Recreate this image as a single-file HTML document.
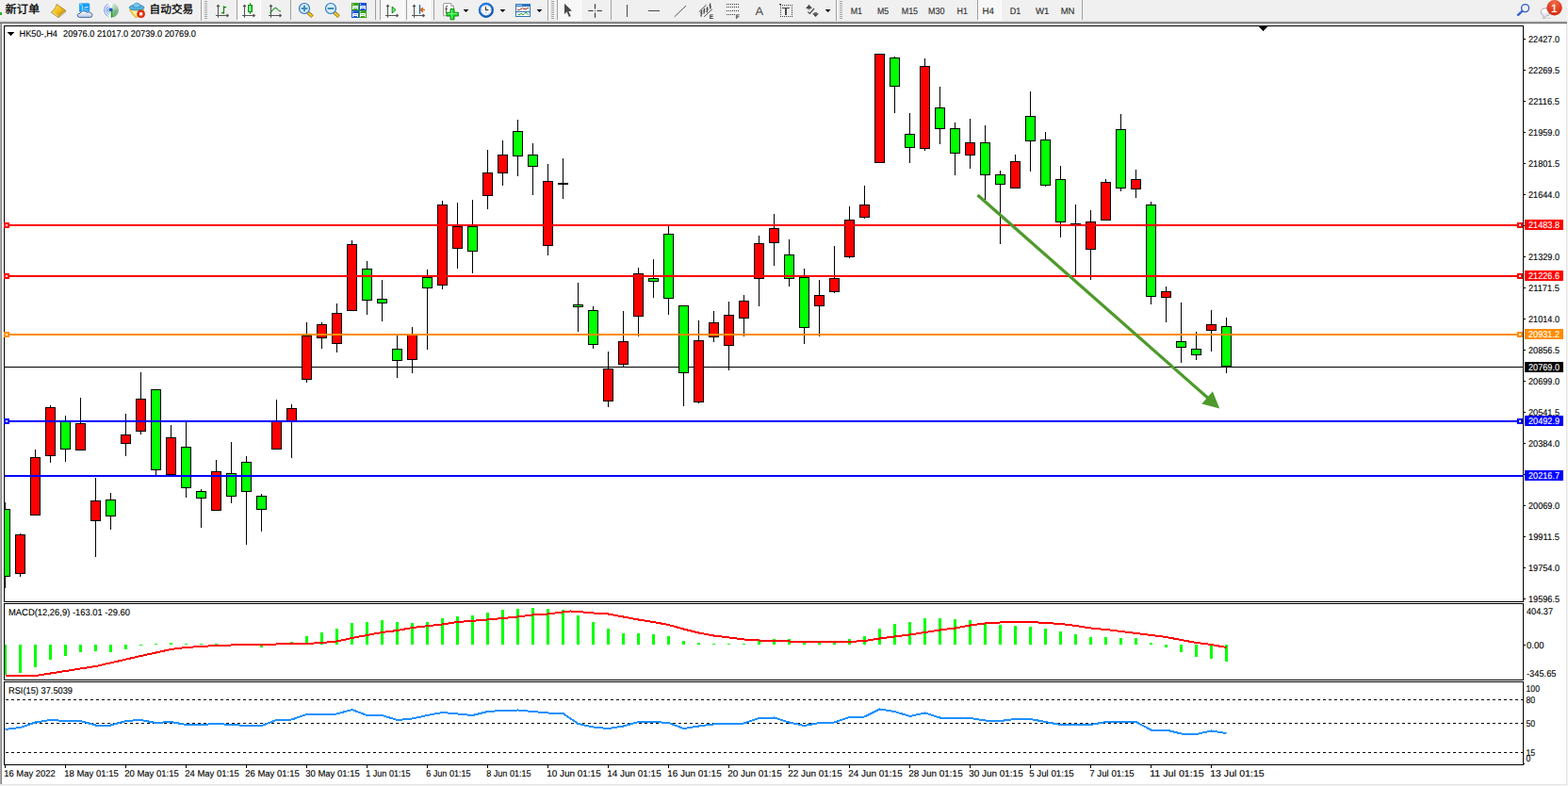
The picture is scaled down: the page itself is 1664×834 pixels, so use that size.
<!DOCTYPE html>
<html><head><meta charset="utf-8"><title>HK50-,H4</title>
<style>html,body{margin:0;padding:0;background:#f0f0f0;overflow:hidden}
svg{display:block} text{font-family:"Liberation Sans",sans-serif;white-space:pre;text-rendering:geometricPrecision}</style></head>
<body><svg width="1664" height="834" viewBox="0 0 1664 834">
<g shape-rendering="crispEdges">
<rect x="0" y="0" width="1664" height="834" fill="#f0f0f0"/>
<rect x="0" y="22" width="1663" height="1" fill="#dcdcdc"/>
<rect x="0" y="23" width="1663" height="1" fill="#a0a0a0"/>
<rect x="0" y="24" width="1663" height="1" fill="#696969"/>
<rect x="0" y="25" width="1" height="807" fill="#ababab"/>
<rect x="1" y="25" width="1" height="807" fill="#868686"/>
<rect x="2" y="25" width="1660" height="807" fill="#ffffff"/>
<rect x="1662" y="25" width="1" height="808" fill="#e3e3e3"/>
<rect x="0" y="832" width="1663" height="1" fill="#e3e3e3"/>
<rect x="1663" y="0" width="1" height="834" fill="#f6f6f6"/>
<rect x="0" y="833" width="1664" height="1" fill="#f6f6f6"/>
<rect x="4" y="27" width="1613" height="1" fill="#000"/>
<rect x="4" y="638" width="1613" height="1" fill="#000"/>
<rect x="4" y="27" width="1" height="612" fill="#000"/>
<rect x="1616" y="27" width="1" height="612" fill="#000"/>
<rect x="4" y="640" width="1613" height="1" fill="#000"/>
<rect x="4" y="721" width="1613" height="1" fill="#000"/>
<rect x="4" y="640" width="1" height="82" fill="#000"/>
<rect x="1616" y="640" width="1" height="82" fill="#000"/>
<rect x="4" y="723" width="1613" height="1" fill="#000"/>
<rect x="4" y="811" width="1613" height="1" fill="#000"/>
<rect x="4" y="723" width="1" height="89" fill="#000"/>
<rect x="1616" y="723" width="1" height="89" fill="#000"/>
<rect x="5" y="389" width="1611" height="1" fill="#000"/>
<rect x="5" y="533" width="1" height="91" fill="#000"/>
<rect x="5" y="540" width="6" height="72" fill="#000"/>
<rect x="5" y="541" width="5" height="70" fill="#00ff00"/>
<rect x="21" y="566" width="1" height="46" fill="#000"/>
<rect x="16" y="567" width="11" height="42" fill="#000"/>
<rect x="17" y="568" width="9" height="40" fill="#ff0000"/>
<rect x="37" y="477" width="1" height="70" fill="#000"/>
<rect x="32" y="485" width="11" height="62" fill="#000"/>
<rect x="33" y="486" width="9" height="60" fill="#ff0000"/>
<rect x="53" y="430" width="1" height="61" fill="#000"/>
<rect x="48" y="432" width="11" height="52" fill="#000"/>
<rect x="49" y="433" width="9" height="50" fill="#ff0000"/>
<rect x="69" y="441" width="1" height="49" fill="#000"/>
<rect x="64" y="447" width="11" height="30" fill="#000"/>
<rect x="65" y="448" width="9" height="28" fill="#00ff00"/>
<rect x="85" y="422" width="1" height="56" fill="#000"/>
<rect x="80" y="449" width="11" height="29" fill="#000"/>
<rect x="81" y="450" width="9" height="27" fill="#ff0000"/>
<rect x="101" y="507" width="1" height="84" fill="#000"/>
<rect x="96" y="531" width="11" height="22" fill="#000"/>
<rect x="97" y="532" width="9" height="20" fill="#ff0000"/>
<rect x="117" y="523" width="1" height="39" fill="#000"/>
<rect x="112" y="530" width="11" height="18" fill="#000"/>
<rect x="113" y="531" width="9" height="16" fill="#00ff00"/>
<rect x="133" y="439" width="1" height="45" fill="#000"/>
<rect x="128" y="461" width="11" height="10" fill="#000"/>
<rect x="129" y="462" width="9" height="8" fill="#ff0000"/>
<rect x="149" y="395" width="1" height="66" fill="#000"/>
<rect x="144" y="423" width="11" height="35" fill="#000"/>
<rect x="145" y="424" width="9" height="33" fill="#ff0000"/>
<rect x="165" y="413" width="1" height="92" fill="#000"/>
<rect x="160" y="413" width="11" height="86" fill="#000"/>
<rect x="161" y="414" width="9" height="84" fill="#00ff00"/>
<rect x="181" y="451" width="1" height="53" fill="#000"/>
<rect x="176" y="464" width="11" height="40" fill="#000"/>
<rect x="177" y="465" width="9" height="38" fill="#ff0000"/>
<rect x="197" y="448" width="1" height="80" fill="#000"/>
<rect x="192" y="474" width="11" height="44" fill="#000"/>
<rect x="193" y="475" width="9" height="42" fill="#00ff00"/>
<rect x="213" y="519" width="1" height="41" fill="#000"/>
<rect x="208" y="521" width="11" height="8" fill="#000"/>
<rect x="209" y="522" width="9" height="6" fill="#00ff00"/>
<rect x="229" y="488" width="1" height="54" fill="#000"/>
<rect x="224" y="500" width="11" height="42" fill="#000"/>
<rect x="225" y="501" width="9" height="40" fill="#ff0000"/>
<rect x="245" y="469" width="1" height="65" fill="#000"/>
<rect x="240" y="502" width="11" height="25" fill="#000"/>
<rect x="241" y="503" width="9" height="23" fill="#00ff00"/>
<rect x="261" y="484" width="1" height="94" fill="#000"/>
<rect x="256" y="490" width="11" height="32" fill="#000"/>
<rect x="257" y="491" width="9" height="30" fill="#00ff00"/>
<rect x="277" y="524" width="1" height="40" fill="#000"/>
<rect x="272" y="526" width="11" height="15" fill="#000"/>
<rect x="273" y="527" width="9" height="13" fill="#00ff00"/>
<rect x="293" y="424" width="1" height="53" fill="#000"/>
<rect x="288" y="447" width="11" height="30" fill="#000"/>
<rect x="289" y="448" width="9" height="28" fill="#ff0000"/>
<rect x="309" y="429" width="1" height="57" fill="#000"/>
<rect x="304" y="433" width="11" height="14" fill="#000"/>
<rect x="305" y="434" width="9" height="12" fill="#ff0000"/>
<rect x="325" y="342" width="1" height="64" fill="#000"/>
<rect x="320" y="356" width="11" height="47" fill="#000"/>
<rect x="321" y="357" width="9" height="45" fill="#ff0000"/>
<rect x="341" y="342" width="1" height="28" fill="#000"/>
<rect x="336" y="344" width="11" height="15" fill="#000"/>
<rect x="337" y="345" width="9" height="13" fill="#ff0000"/>
<rect x="357" y="322" width="1" height="52" fill="#000"/>
<rect x="352" y="332" width="11" height="33" fill="#000"/>
<rect x="353" y="333" width="9" height="31" fill="#ff0000"/>
<rect x="373" y="255" width="1" height="75" fill="#000"/>
<rect x="368" y="259" width="11" height="71" fill="#000"/>
<rect x="369" y="260" width="9" height="69" fill="#ff0000"/>
<rect x="389" y="277" width="1" height="57" fill="#000"/>
<rect x="384" y="285" width="11" height="34" fill="#000"/>
<rect x="385" y="286" width="9" height="32" fill="#00ff00"/>
<rect x="405" y="297" width="1" height="44" fill="#000"/>
<rect x="400" y="317" width="11" height="5" fill="#000"/>
<rect x="401" y="318" width="9" height="3" fill="#00ff00"/>
<rect x="421" y="356" width="1" height="45" fill="#000"/>
<rect x="416" y="370" width="11" height="13" fill="#000"/>
<rect x="417" y="371" width="9" height="11" fill="#00ff00"/>
<rect x="437" y="347" width="1" height="49" fill="#000"/>
<rect x="432" y="355" width="11" height="27" fill="#000"/>
<rect x="433" y="356" width="9" height="25" fill="#ff0000"/>
<rect x="453" y="286" width="1" height="85" fill="#000"/>
<rect x="448" y="294" width="11" height="12" fill="#000"/>
<rect x="449" y="295" width="9" height="10" fill="#00ff00"/>
<rect x="469" y="213" width="1" height="94" fill="#000"/>
<rect x="464" y="217" width="11" height="86" fill="#000"/>
<rect x="465" y="218" width="9" height="84" fill="#ff0000"/>
<rect x="485" y="215" width="1" height="70" fill="#000"/>
<rect x="480" y="240" width="11" height="24" fill="#000"/>
<rect x="481" y="241" width="9" height="22" fill="#ff0000"/>
<rect x="501" y="212" width="1" height="78" fill="#000"/>
<rect x="496" y="240" width="11" height="27" fill="#000"/>
<rect x="497" y="241" width="9" height="25" fill="#00ff00"/>
<rect x="517" y="159" width="1" height="63" fill="#000"/>
<rect x="512" y="183" width="11" height="25" fill="#000"/>
<rect x="513" y="184" width="9" height="23" fill="#ff0000"/>
<rect x="533" y="149" width="1" height="48" fill="#000"/>
<rect x="528" y="164" width="11" height="20" fill="#000"/>
<rect x="529" y="165" width="9" height="18" fill="#ff0000"/>
<rect x="549" y="127" width="1" height="60" fill="#000"/>
<rect x="544" y="139" width="11" height="27" fill="#000"/>
<rect x="545" y="140" width="9" height="25" fill="#00ff00"/>
<rect x="565" y="152" width="1" height="55" fill="#000"/>
<rect x="560" y="164" width="11" height="13" fill="#000"/>
<rect x="561" y="165" width="9" height="11" fill="#00ff00"/>
<rect x="581" y="174" width="1" height="97" fill="#000"/>
<rect x="576" y="192" width="11" height="69" fill="#000"/>
<rect x="577" y="193" width="9" height="67" fill="#ff0000"/>
<rect x="597" y="168" width="1" height="43" fill="#000"/>
<rect x="592" y="194" width="11" height="2" fill="#000"/>
<rect x="613" y="300" width="1" height="52" fill="#000"/>
<rect x="608" y="323" width="11" height="3" fill="#000"/>
<rect x="609" y="324" width="9" height="1" fill="#00ff00"/>
<rect x="629" y="325" width="1" height="45" fill="#000"/>
<rect x="624" y="329" width="11" height="37" fill="#000"/>
<rect x="625" y="330" width="9" height="35" fill="#00ff00"/>
<rect x="645" y="373" width="1" height="59" fill="#000"/>
<rect x="640" y="391" width="11" height="35" fill="#000"/>
<rect x="641" y="392" width="9" height="33" fill="#ff0000"/>
<rect x="661" y="330" width="1" height="59" fill="#000"/>
<rect x="656" y="362" width="11" height="25" fill="#000"/>
<rect x="657" y="363" width="9" height="23" fill="#ff0000"/>
<rect x="677" y="284" width="1" height="73" fill="#000"/>
<rect x="672" y="290" width="11" height="46" fill="#000"/>
<rect x="673" y="291" width="9" height="44" fill="#ff0000"/>
<rect x="693" y="275" width="1" height="41" fill="#000"/>
<rect x="688" y="295" width="11" height="4" fill="#000"/>
<rect x="689" y="296" width="9" height="2" fill="#00ff00"/>
<rect x="709" y="240" width="1" height="94" fill="#000"/>
<rect x="704" y="248" width="11" height="69" fill="#000"/>
<rect x="705" y="249" width="9" height="67" fill="#00ff00"/>
<rect x="725" y="324" width="1" height="107" fill="#000"/>
<rect x="720" y="324" width="11" height="72" fill="#000"/>
<rect x="721" y="325" width="9" height="70" fill="#00ff00"/>
<rect x="741" y="340" width="1" height="88" fill="#000"/>
<rect x="736" y="361" width="11" height="66" fill="#000"/>
<rect x="737" y="362" width="9" height="64" fill="#ff0000"/>
<rect x="757" y="330" width="1" height="33" fill="#000"/>
<rect x="752" y="342" width="11" height="16" fill="#000"/>
<rect x="753" y="343" width="9" height="14" fill="#ff0000"/>
<rect x="773" y="320" width="1" height="73" fill="#000"/>
<rect x="768" y="334" width="11" height="33" fill="#000"/>
<rect x="769" y="335" width="9" height="31" fill="#ff0000"/>
<rect x="789" y="313" width="1" height="44" fill="#000"/>
<rect x="784" y="319" width="11" height="19" fill="#000"/>
<rect x="785" y="320" width="9" height="17" fill="#ff0000"/>
<rect x="805" y="250" width="1" height="75" fill="#000"/>
<rect x="800" y="258" width="11" height="38" fill="#000"/>
<rect x="801" y="259" width="9" height="36" fill="#ff0000"/>
<rect x="821" y="227" width="1" height="55" fill="#000"/>
<rect x="816" y="242" width="11" height="16" fill="#000"/>
<rect x="817" y="243" width="9" height="14" fill="#ff0000"/>
<rect x="837" y="254" width="1" height="50" fill="#000"/>
<rect x="832" y="270" width="11" height="26" fill="#000"/>
<rect x="833" y="271" width="9" height="24" fill="#00ff00"/>
<rect x="853" y="285" width="1" height="80" fill="#000"/>
<rect x="848" y="294" width="11" height="54" fill="#000"/>
<rect x="849" y="295" width="9" height="52" fill="#00ff00"/>
<rect x="869" y="297" width="1" height="60" fill="#000"/>
<rect x="864" y="313" width="11" height="12" fill="#000"/>
<rect x="865" y="314" width="9" height="10" fill="#ff0000"/>
<rect x="885" y="261" width="1" height="50" fill="#000"/>
<rect x="880" y="295" width="11" height="15" fill="#000"/>
<rect x="881" y="296" width="9" height="13" fill="#ff0000"/>
<rect x="901" y="219" width="1" height="55" fill="#000"/>
<rect x="896" y="233" width="11" height="40" fill="#000"/>
<rect x="897" y="234" width="9" height="38" fill="#ff0000"/>
<rect x="917" y="197" width="1" height="35" fill="#000"/>
<rect x="912" y="217" width="11" height="14" fill="#000"/>
<rect x="913" y="218" width="9" height="12" fill="#ff0000"/>
<rect x="933" y="57" width="1" height="116" fill="#000"/>
<rect x="928" y="57" width="11" height="116" fill="#000"/>
<rect x="929" y="58" width="9" height="114" fill="#ff0000"/>
<rect x="949" y="60" width="1" height="60" fill="#000"/>
<rect x="944" y="61" width="11" height="31" fill="#000"/>
<rect x="945" y="62" width="9" height="29" fill="#00ff00"/>
<rect x="965" y="120" width="1" height="53" fill="#000"/>
<rect x="960" y="142" width="11" height="15" fill="#000"/>
<rect x="961" y="143" width="9" height="13" fill="#00ff00"/>
<rect x="981" y="62" width="1" height="98" fill="#000"/>
<rect x="976" y="70" width="11" height="88" fill="#000"/>
<rect x="977" y="71" width="9" height="86" fill="#ff0000"/>
<rect x="997" y="92" width="1" height="61" fill="#000"/>
<rect x="992" y="114" width="11" height="23" fill="#000"/>
<rect x="993" y="115" width="9" height="21" fill="#00ff00"/>
<rect x="1013" y="130" width="1" height="56" fill="#000"/>
<rect x="1008" y="136" width="11" height="27" fill="#000"/>
<rect x="1009" y="137" width="9" height="25" fill="#00ff00"/>
<rect x="1029" y="126" width="1" height="53" fill="#000"/>
<rect x="1024" y="151" width="11" height="14" fill="#000"/>
<rect x="1025" y="152" width="9" height="12" fill="#ff0000"/>
<rect x="1045" y="133" width="1" height="79" fill="#000"/>
<rect x="1040" y="151" width="11" height="35" fill="#000"/>
<rect x="1041" y="152" width="9" height="33" fill="#00ff00"/>
<rect x="1061" y="181" width="1" height="78" fill="#000"/>
<rect x="1056" y="185" width="11" height="11" fill="#000"/>
<rect x="1057" y="186" width="9" height="9" fill="#00ff00"/>
<rect x="1077" y="164" width="1" height="36" fill="#000"/>
<rect x="1072" y="171" width="11" height="29" fill="#000"/>
<rect x="1073" y="172" width="9" height="27" fill="#ff0000"/>
<rect x="1093" y="97" width="1" height="85" fill="#000"/>
<rect x="1088" y="123" width="11" height="27" fill="#000"/>
<rect x="1089" y="124" width="9" height="25" fill="#00ff00"/>
<rect x="1109" y="140" width="1" height="58" fill="#000"/>
<rect x="1104" y="148" width="11" height="49" fill="#000"/>
<rect x="1105" y="149" width="9" height="47" fill="#00ff00"/>
<rect x="1125" y="176" width="1" height="76" fill="#000"/>
<rect x="1120" y="190" width="11" height="46" fill="#000"/>
<rect x="1121" y="191" width="9" height="44" fill="#00ff00"/>
<rect x="1141" y="217" width="1" height="75" fill="#000"/>
<rect x="1136" y="237" width="11" height="1" fill="#000"/>
<rect x="1157" y="223" width="1" height="74" fill="#000"/>
<rect x="1152" y="235" width="11" height="30" fill="#000"/>
<rect x="1153" y="236" width="9" height="28" fill="#ff0000"/>
<rect x="1173" y="190" width="1" height="44" fill="#000"/>
<rect x="1168" y="193" width="11" height="41" fill="#000"/>
<rect x="1169" y="194" width="9" height="39" fill="#ff0000"/>
<rect x="1189" y="121" width="1" height="82" fill="#000"/>
<rect x="1184" y="137" width="11" height="63" fill="#000"/>
<rect x="1185" y="138" width="9" height="61" fill="#00ff00"/>
<rect x="1205" y="180" width="1" height="30" fill="#000"/>
<rect x="1200" y="190" width="11" height="11" fill="#000"/>
<rect x="1201" y="191" width="9" height="9" fill="#ff0000"/>
<rect x="1221" y="214" width="1" height="109" fill="#000"/>
<rect x="1216" y="217" width="11" height="98" fill="#000"/>
<rect x="1217" y="218" width="9" height="96" fill="#00ff00"/>
<rect x="1237" y="304" width="1" height="38" fill="#000"/>
<rect x="1232" y="309" width="11" height="7" fill="#000"/>
<rect x="1233" y="310" width="9" height="5" fill="#ff0000"/>
<rect x="1253" y="321" width="1" height="64" fill="#000"/>
<rect x="1248" y="362" width="11" height="7" fill="#000"/>
<rect x="1249" y="363" width="9" height="5" fill="#00ff00"/>
<rect x="1269" y="352" width="1" height="30" fill="#000"/>
<rect x="1264" y="370" width="11" height="7" fill="#000"/>
<rect x="1265" y="371" width="9" height="5" fill="#00ff00"/>
<rect x="1285" y="329" width="1" height="44" fill="#000"/>
<rect x="1280" y="344" width="11" height="7" fill="#000"/>
<rect x="1281" y="345" width="9" height="5" fill="#ff0000"/>
<rect x="1301" y="337" width="1" height="59" fill="#000"/>
<rect x="1296" y="346" width="11" height="43" fill="#000"/>
<rect x="1297" y="347" width="9" height="41" fill="#00ff00"/>
<rect x="5" y="238" width="1611" height="2" fill="#ff0000"/>
<rect x="4" y="236" width="6" height="6" fill="#ff0000"/>
<rect x="6" y="238" width="2" height="2" fill="#fff"/>
<rect x="1610" y="236" width="6" height="6" fill="#ff0000"/>
<rect x="1612" y="238" width="2" height="2" fill="#fff"/>
<rect x="5" y="292" width="1611" height="2" fill="#ff0000"/>
<rect x="4" y="290" width="6" height="6" fill="#ff0000"/>
<rect x="6" y="292" width="2" height="2" fill="#fff"/>
<rect x="1610" y="290" width="6" height="6" fill="#ff0000"/>
<rect x="1612" y="292" width="2" height="2" fill="#fff"/>
<rect x="5" y="354" width="1611" height="2" fill="#ff8c00"/>
<rect x="4" y="352" width="6" height="6" fill="#ff8c00"/>
<rect x="6" y="354" width="2" height="2" fill="#fff"/>
<rect x="1610" y="352" width="6" height="6" fill="#ff8c00"/>
<rect x="1612" y="354" width="2" height="2" fill="#fff"/>
<rect x="5" y="446" width="1611" height="2" fill="#0000ff"/>
<rect x="4" y="444" width="6" height="6" fill="#0000ff"/>
<rect x="6" y="446" width="2" height="2" fill="#fff"/>
<rect x="1610" y="444" width="6" height="6" fill="#0000ff"/>
<rect x="1612" y="446" width="2" height="2" fill="#fff"/>
<rect x="5" y="504" width="1611" height="2" fill="#0000ff"/>
<g shape-rendering="geometricPrecision"><line x1="1037.5" y1="207" x2="1283" y2="423.3" stroke="#4e9a2b" stroke-width="3.3"/><polygon points="1294.3,433.4 1286.9,415.2 1275.3,428.4" fill="#4e9a2b"/></g>
<rect x="5" y="684" width="2" height="32" fill="#00ff00"/>
<rect x="20" y="684" width="3" height="30" fill="#00ff00"/>
<rect x="36" y="684" width="3" height="24" fill="#00ff00"/>
<rect x="52" y="684" width="3" height="16" fill="#00ff00"/>
<rect x="68" y="684" width="3" height="12" fill="#00ff00"/>
<rect x="84" y="684" width="3" height="8" fill="#00ff00"/>
<rect x="100" y="684" width="3" height="7" fill="#00ff00"/>
<rect x="116" y="684" width="3" height="8" fill="#00ff00"/>
<rect x="132" y="684" width="3" height="5" fill="#00ff00"/>
<rect x="148" y="684" width="3" height="1" fill="#00ff00"/>
<rect x="164" y="683" width="3" height="1" fill="#00ff00"/>
<rect x="180" y="682" width="3" height="2" fill="#00ff00"/>
<rect x="196" y="683" width="3" height="1" fill="#00ff00"/>
<rect x="212" y="683" width="3" height="1" fill="#00ff00"/>
<rect x="228" y="683" width="3" height="1" fill="#00ff00"/>
<rect x="276" y="684" width="3" height="3" fill="#00ff00"/>
<rect x="308" y="681" width="3" height="3" fill="#00ff00"/>
<rect x="324" y="675" width="3" height="9" fill="#00ff00"/>
<rect x="340" y="671" width="3" height="13" fill="#00ff00"/>
<rect x="356" y="667" width="3" height="17" fill="#00ff00"/>
<rect x="372" y="661" width="3" height="23" fill="#00ff00"/>
<rect x="388" y="660" width="3" height="24" fill="#00ff00"/>
<rect x="404" y="658" width="3" height="26" fill="#00ff00"/>
<rect x="420" y="660" width="3" height="24" fill="#00ff00"/>
<rect x="436" y="661" width="3" height="23" fill="#00ff00"/>
<rect x="452" y="660" width="3" height="24" fill="#00ff00"/>
<rect x="468" y="656" width="3" height="28" fill="#00ff00"/>
<rect x="484" y="654" width="3" height="30" fill="#00ff00"/>
<rect x="500" y="653" width="3" height="31" fill="#00ff00"/>
<rect x="516" y="650" width="3" height="34" fill="#00ff00"/>
<rect x="532" y="647" width="3" height="37" fill="#00ff00"/>
<rect x="548" y="646" width="3" height="38" fill="#00ff00"/>
<rect x="564" y="645" width="3" height="39" fill="#00ff00"/>
<rect x="580" y="646" width="3" height="38" fill="#00ff00"/>
<rect x="596" y="647" width="3" height="37" fill="#00ff00"/>
<rect x="612" y="653" width="3" height="31" fill="#00ff00"/>
<rect x="628" y="660" width="3" height="24" fill="#00ff00"/>
<rect x="644" y="667" width="3" height="17" fill="#00ff00"/>
<rect x="660" y="672" width="3" height="12" fill="#00ff00"/>
<rect x="676" y="672" width="3" height="12" fill="#00ff00"/>
<rect x="692" y="673" width="3" height="11" fill="#00ff00"/>
<rect x="708" y="675" width="3" height="9" fill="#00ff00"/>
<rect x="724" y="680" width="3" height="4" fill="#00ff00"/>
<rect x="740" y="682" width="3" height="2" fill="#00ff00"/>
<rect x="756" y="683" width="3" height="1" fill="#00ff00"/>
<rect x="772" y="683" width="3" height="1" fill="#00ff00"/>
<rect x="788" y="683" width="3" height="1" fill="#00ff00"/>
<rect x="804" y="680" width="3" height="4" fill="#00ff00"/>
<rect x="820" y="678" width="3" height="6" fill="#00ff00"/>
<rect x="836" y="678" width="3" height="6" fill="#00ff00"/>
<rect x="852" y="681" width="3" height="3" fill="#00ff00"/>
<rect x="868" y="681" width="3" height="3" fill="#00ff00"/>
<rect x="884" y="681" width="3" height="3" fill="#00ff00"/>
<rect x="900" y="678" width="3" height="6" fill="#00ff00"/>
<rect x="916" y="675" width="3" height="9" fill="#00ff00"/>
<rect x="932" y="667" width="3" height="17" fill="#00ff00"/>
<rect x="948" y="662" width="3" height="22" fill="#00ff00"/>
<rect x="964" y="660" width="3" height="24" fill="#00ff00"/>
<rect x="980" y="656" width="3" height="28" fill="#00ff00"/>
<rect x="996" y="656" width="3" height="28" fill="#00ff00"/>
<rect x="1012" y="657" width="3" height="27" fill="#00ff00"/>
<rect x="1028" y="658" width="3" height="26" fill="#00ff00"/>
<rect x="1044" y="661" width="3" height="23" fill="#00ff00"/>
<rect x="1060" y="663" width="3" height="21" fill="#00ff00"/>
<rect x="1076" y="664" width="3" height="20" fill="#00ff00"/>
<rect x="1092" y="665" width="3" height="19" fill="#00ff00"/>
<rect x="1108" y="667" width="3" height="17" fill="#00ff00"/>
<rect x="1124" y="670" width="3" height="14" fill="#00ff00"/>
<rect x="1140" y="673" width="3" height="11" fill="#00ff00"/>
<rect x="1156" y="676" width="3" height="8" fill="#00ff00"/>
<rect x="1172" y="676" width="3" height="8" fill="#00ff00"/>
<rect x="1188" y="677" width="3" height="7" fill="#00ff00"/>
<rect x="1204" y="677" width="3" height="7" fill="#00ff00"/>
<rect x="1220" y="682" width="3" height="2" fill="#00ff00"/>
<rect x="1236" y="684" width="3" height="3" fill="#00ff00"/>
<rect x="1252" y="684" width="3" height="8" fill="#00ff00"/>
<rect x="1268" y="684" width="3" height="13" fill="#00ff00"/>
<rect x="1284" y="684" width="3" height="15" fill="#00ff00"/>
<rect x="1300" y="684" width="3" height="18" fill="#00ff00"/>
<polyline points="5.5,717 37.5,717 101.5,707 149.5,696 181.5,689 197.5,687 229.5,685 261.5,684 325.5,683 341.5,682 357.5,680.5 373.5,677 389.5,674 405.5,671 421.5,669 437.5,666 469.5,662.5 485.5,660 517.5,657.5 549.5,654.5 565.5,652.5 581.5,651.5 597.5,649.5 605.5,648.5 613.5,649 629.5,650.5 645.5,651.5 661.5,654.5 677.5,657.5 693.5,660 709.5,663 725.5,667.5 741.5,671.5 757.5,674.5 773.5,676.5 789.5,678.5 805.5,679.5 821.5,680 837.5,680.5 853.5,681 901.5,681 917.5,680 933.5,677.5 949.5,675.5 965.5,673.5 981.5,671 997.5,668.5 1013.5,666.5 1029.5,663.5 1045.5,661.5 1061.5,660.5 1077.5,660 1093.5,660 1109.5,661 1125.5,662 1141.5,664 1157.5,666.5 1173.5,668 1189.5,670 1205.5,672 1221.5,674 1237.5,676 1253.5,679 1269.5,682 1285.5,684 1301.5,687" fill="none" stroke="#ff0000" stroke-width="2" shape-rendering="crispEdges"/>
<line x1="6" y1="742.5" x2="1616" y2="742.5" stroke="#000" stroke-width="1" stroke-dasharray="3,3" stroke-dashoffset="0"/>
<line x1="6" y1="767.5" x2="1616" y2="767.5" stroke="#000" stroke-width="1" stroke-dasharray="3,3" stroke-dashoffset="0"/>
<line x1="6" y1="798.5" x2="1616" y2="798.5" stroke="#000" stroke-width="1" stroke-dasharray="3,3" stroke-dashoffset="0"/>
<polyline points="5.5,774 21.5,772 37.5,766.5 53.5,764 69.5,765 85.5,765 101.5,769.5 117.5,769.5 133.5,765 149.5,764 165.5,767 181.5,766 197.5,769 213.5,769 229.5,768 245.5,769 261.5,770 277.5,770 293.5,764 309.5,763.5 325.5,758 341.5,758 357.5,757.5 373.5,753 389.5,759 405.5,759 421.5,764 437.5,762.5 453.5,759 469.5,756 485.5,757.5 501.5,759 517.5,755 533.5,754 549.5,753.5 565.5,755 581.5,756.5 597.5,757 613.5,768 629.5,771.5 645.5,773 661.5,770.5 677.5,766 693.5,766 709.5,767 725.5,773 741.5,770.5 757.5,768.5 773.5,768 789.5,767.5 805.5,762 821.5,761.5 837.5,766.5 853.5,770 869.5,767 885.5,766.5 901.5,761 917.5,760.5 933.5,752.5 949.5,755 965.5,760 981.5,756.5 997.5,761.5 1013.5,761.5 1029.5,762 1045.5,764.5 1061.5,765 1077.5,763 1093.5,763 1109.5,766 1125.5,769 1141.5,769 1157.5,769 1173.5,766 1189.5,766 1205.5,766 1221.5,774.5 1237.5,774.5 1253.5,778.5 1269.5,779 1285.5,775.5 1301.5,778" fill="none" stroke="#1e90ff" stroke-width="2" shape-rendering="crispEdges"/>
<rect x="1617" y="41" width="2" height="1" fill="#000"/>
<rect x="1617" y="74" width="2" height="1" fill="#000"/>
<rect x="1617" y="107" width="2" height="1" fill="#000"/>
<rect x="1617" y="140" width="2" height="1" fill="#000"/>
<rect x="1617" y="173" width="2" height="1" fill="#000"/>
<rect x="1617" y="206" width="2" height="1" fill="#000"/>
<rect x="1617" y="239" width="2" height="1" fill="#000"/>
<rect x="1617" y="272" width="2" height="1" fill="#000"/>
<rect x="1617" y="305" width="2" height="1" fill="#000"/>
<rect x="1617" y="338" width="2" height="1" fill="#000"/>
<rect x="1617" y="371" width="2" height="1" fill="#000"/>
<rect x="1617" y="404" width="2" height="1" fill="#000"/>
<rect x="1617" y="437" width="2" height="1" fill="#000"/>
<rect x="1617" y="470" width="2" height="1" fill="#000"/>
<rect x="1617" y="503" width="2" height="1" fill="#000"/>
<rect x="1617" y="536" width="2" height="1" fill="#000"/>
<rect x="1617" y="569" width="2" height="1" fill="#000"/>
<rect x="1617" y="602" width="2" height="1" fill="#000"/>
<rect x="1617" y="635" width="2" height="1" fill="#000"/>
<rect x="1618" y="233" width="41" height="11" fill="#ff0000"/>
<rect x="1618" y="287" width="41" height="11" fill="#ff0000"/>
<rect x="1618" y="349" width="41" height="11" fill="#ff8c00"/>
<rect x="1618" y="441" width="41" height="11" fill="#0000ff"/>
<rect x="1618" y="499" width="41" height="11" fill="#0000ff"/>
<rect x="1618" y="384" width="41" height="11" fill="#000"/>
<rect x="1617" y="684" width="2" height="1" fill="#000"/>
<rect x="1617" y="810" width="1" height="1" fill="#000"/>
<rect x="5" y="812" width="1" height="3" fill="#000"/>
<rect x="69" y="812" width="1" height="3" fill="#000"/>
<rect x="133" y="812" width="1" height="3" fill="#000"/>
<rect x="197" y="812" width="1" height="3" fill="#000"/>
<rect x="261" y="812" width="1" height="3" fill="#000"/>
<rect x="325" y="812" width="1" height="3" fill="#000"/>
<rect x="389" y="812" width="1" height="3" fill="#000"/>
<rect x="453" y="812" width="1" height="3" fill="#000"/>
<rect x="517" y="812" width="1" height="3" fill="#000"/>
<rect x="581" y="812" width="1" height="3" fill="#000"/>
<rect x="645" y="812" width="1" height="3" fill="#000"/>
<rect x="709" y="812" width="1" height="3" fill="#000"/>
<rect x="773" y="812" width="1" height="3" fill="#000"/>
<rect x="837" y="812" width="1" height="3" fill="#000"/>
<rect x="901" y="812" width="1" height="3" fill="#000"/>
<rect x="965" y="812" width="1" height="3" fill="#000"/>
<rect x="1029" y="812" width="1" height="3" fill="#000"/>
<rect x="1093" y="812" width="1" height="3" fill="#000"/>
<rect x="1157" y="812" width="1" height="3" fill="#000"/>
<rect x="1221" y="812" width="1" height="3" fill="#000"/>
<rect x="1285" y="812" width="1" height="3" fill="#000"/>
<polygon points="8,34 15.2,34 11.6,38" fill="#000"/>
<polygon points="1335.5,28 1345.5,28 1340.5,33.2" fill="#000"/>
</g>
<g>
<text x="1622" y="45" font-size="9.8" fill="#000" stroke="#000" stroke-width="0.12" textLength="33" lengthAdjust="spacingAndGlyphs" >22427.0</text>
<text x="1622" y="78" font-size="9.8" fill="#000" stroke="#000" stroke-width="0.12" textLength="33" lengthAdjust="spacingAndGlyphs" >22269.5</text>
<text x="1622" y="111" font-size="9.8" fill="#000" stroke="#000" stroke-width="0.12" textLength="33" lengthAdjust="spacingAndGlyphs" >22116.5</text>
<text x="1622" y="144" font-size="9.8" fill="#000" stroke="#000" stroke-width="0.12" textLength="33" lengthAdjust="spacingAndGlyphs" >21959.0</text>
<text x="1622" y="177" font-size="9.8" fill="#000" stroke="#000" stroke-width="0.12" textLength="33" lengthAdjust="spacingAndGlyphs" >21801.5</text>
<text x="1622" y="210" font-size="9.8" fill="#000" stroke="#000" stroke-width="0.12" textLength="33" lengthAdjust="spacingAndGlyphs" >21644.0</text>
<text x="1622" y="276" font-size="9.8" fill="#000" stroke="#000" stroke-width="0.12" textLength="33" lengthAdjust="spacingAndGlyphs" >21329.0</text>
<text x="1622" y="309" font-size="9.8" fill="#000" stroke="#000" stroke-width="0.12" textLength="33" lengthAdjust="spacingAndGlyphs" >21171.5</text>
<text x="1622" y="342" font-size="9.8" fill="#000" stroke="#000" stroke-width="0.12" textLength="33" lengthAdjust="spacingAndGlyphs" >21014.0</text>
<text x="1622" y="375" font-size="9.8" fill="#000" stroke="#000" stroke-width="0.12" textLength="33" lengthAdjust="spacingAndGlyphs" >20856.5</text>
<text x="1622" y="408" font-size="9.8" fill="#000" stroke="#000" stroke-width="0.12" textLength="33" lengthAdjust="spacingAndGlyphs" >20699.0</text>
<text x="1622" y="441" font-size="9.8" fill="#000" stroke="#000" stroke-width="0.12" textLength="33" lengthAdjust="spacingAndGlyphs" >20541.5</text>
<text x="1622" y="474" font-size="9.8" fill="#000" stroke="#000" stroke-width="0.12" textLength="33" lengthAdjust="spacingAndGlyphs" >20384.0</text>
<text x="1622" y="540" font-size="9.8" fill="#000" stroke="#000" stroke-width="0.12" textLength="33" lengthAdjust="spacingAndGlyphs" >20069.0</text>
<text x="1622" y="573" font-size="9.8" fill="#000" stroke="#000" stroke-width="0.12" textLength="33" lengthAdjust="spacingAndGlyphs" >19911.5</text>
<text x="1622" y="606" font-size="9.8" fill="#000" stroke="#000" stroke-width="0.12" textLength="33" lengthAdjust="spacingAndGlyphs" >19754.0</text>
<text x="1622" y="639" font-size="9.8" fill="#000" stroke="#000" stroke-width="0.12" textLength="33" lengthAdjust="spacingAndGlyphs" >19596.5</text>
<text x="1622" y="242" font-size="9.8" fill="#fff" stroke="#fff" stroke-width="0.12" textLength="33" lengthAdjust="spacingAndGlyphs" >21483.8</text>
<text x="1622" y="296" font-size="9.8" fill="#fff" stroke="#fff" stroke-width="0.12" textLength="33" lengthAdjust="spacingAndGlyphs" >21226.6</text>
<text x="1622" y="358" font-size="9.8" fill="#fff" stroke="#fff" stroke-width="0.12" textLength="33" lengthAdjust="spacingAndGlyphs" >20931.2</text>
<text x="1622" y="450" font-size="9.8" fill="#fff" stroke="#fff" stroke-width="0.12" textLength="33" lengthAdjust="spacingAndGlyphs" >20492.9</text>
<text x="1622" y="508" font-size="9.8" fill="#fff" stroke="#fff" stroke-width="0.12" textLength="33" lengthAdjust="spacingAndGlyphs" >20216.7</text>
<text x="1622" y="393" font-size="9.8" fill="#fff" stroke="#fff" stroke-width="0.12" textLength="33" lengthAdjust="spacingAndGlyphs" >20769.0</text>
<text x="1620" y="652" font-size="9.8" fill="#000" stroke="#000" stroke-width="0.12" textLength="28" lengthAdjust="spacingAndGlyphs" >404.37</text>
<text x="1620" y="688" font-size="9.8" fill="#000" stroke="#000" stroke-width="0.12" textLength="18.5" lengthAdjust="spacingAndGlyphs" >0.00</text>
<text x="1620" y="718" font-size="9.8" fill="#000" stroke="#000" stroke-width="0.12" textLength="31.5" lengthAdjust="spacingAndGlyphs" >-345.65</text>
<text x="1619.5" y="734" font-size="9.8" fill="#000" stroke="#000" stroke-width="0.12" textLength="14.5" lengthAdjust="spacingAndGlyphs" >100</text>
<text x="1619.5" y="746" font-size="9.8" fill="#000" stroke="#000" stroke-width="0.12" textLength="9.7" lengthAdjust="spacingAndGlyphs" >80</text>
<text x="1619.5" y="771" font-size="9.8" fill="#000" stroke="#000" stroke-width="0.12" textLength="9.7" lengthAdjust="spacingAndGlyphs" >50</text>
<text x="1619.5" y="802" font-size="9.8" fill="#000" stroke="#000" stroke-width="0.12" textLength="9.7" lengthAdjust="spacingAndGlyphs" >15</text>
<text x="1619.5" y="808" font-size="9.8" fill="#000" stroke="#000" stroke-width="0.12" textLength="4.8" lengthAdjust="spacingAndGlyphs" >0</text>
<text x="4.2" y="824" font-size="9.8" fill="#000" stroke="#000" stroke-width="0.12" textLength="54.5" lengthAdjust="spacingAndGlyphs" >16 May 2022</text>
<text x="68.2" y="824" font-size="9.8" fill="#000" stroke="#000" stroke-width="0.12" textLength="57.5" lengthAdjust="spacingAndGlyphs" >18 May 01:15</text>
<text x="132.2" y="824" font-size="9.8" fill="#000" stroke="#000" stroke-width="0.12" textLength="57.5" lengthAdjust="spacingAndGlyphs" >20 May 01:15</text>
<text x="196.2" y="824" font-size="9.8" fill="#000" stroke="#000" stroke-width="0.12" textLength="57.5" lengthAdjust="spacingAndGlyphs" >24 May 01:15</text>
<text x="260.2" y="824" font-size="9.8" fill="#000" stroke="#000" stroke-width="0.12" textLength="57.5" lengthAdjust="spacingAndGlyphs" >26 May 01:15</text>
<text x="324.2" y="824" font-size="9.8" fill="#000" stroke="#000" stroke-width="0.12" textLength="57.5" lengthAdjust="spacingAndGlyphs" >30 May 01:15</text>
<text x="388.2" y="824" font-size="9.8" fill="#000" stroke="#000" stroke-width="0.12" textLength="47.5" lengthAdjust="spacingAndGlyphs" >1 Jun 01:15</text>
<text x="452.2" y="824" font-size="9.8" fill="#000" stroke="#000" stroke-width="0.12" textLength="47.5" lengthAdjust="spacingAndGlyphs" >6 Jun 01:15</text>
<text x="516.2" y="824" font-size="9.8" fill="#000" stroke="#000" stroke-width="0.12" textLength="47.5" lengthAdjust="spacingAndGlyphs" >8 Jun 01:15</text>
<text x="580.2" y="824" font-size="9.8" fill="#000" stroke="#000" stroke-width="0.12" textLength="57.5" lengthAdjust="spacingAndGlyphs" >10 Jun 01:15</text>
<text x="644.2" y="824" font-size="9.8" fill="#000" stroke="#000" stroke-width="0.12" textLength="57.5" lengthAdjust="spacingAndGlyphs" >14 Jun 01:15</text>
<text x="708.2" y="824" font-size="9.8" fill="#000" stroke="#000" stroke-width="0.12" textLength="57.5" lengthAdjust="spacingAndGlyphs" >16 Jun 01:15</text>
<text x="772.2" y="824" font-size="9.8" fill="#000" stroke="#000" stroke-width="0.12" textLength="57.5" lengthAdjust="spacingAndGlyphs" >20 Jun 01:15</text>
<text x="836.2" y="824" font-size="9.8" fill="#000" stroke="#000" stroke-width="0.12" textLength="57.5" lengthAdjust="spacingAndGlyphs" >22 Jun 01:15</text>
<text x="900.2" y="824" font-size="9.8" fill="#000" stroke="#000" stroke-width="0.12" textLength="57.5" lengthAdjust="spacingAndGlyphs" >24 Jun 01:15</text>
<text x="964.2" y="824" font-size="9.8" fill="#000" stroke="#000" stroke-width="0.12" textLength="57.5" lengthAdjust="spacingAndGlyphs" >28 Jun 01:15</text>
<text x="1028.2" y="824" font-size="9.8" fill="#000" stroke="#000" stroke-width="0.12" textLength="57.5" lengthAdjust="spacingAndGlyphs" >30 Jun 01:15</text>
<text x="1092.2" y="824" font-size="9.8" fill="#000" stroke="#000" stroke-width="0.12" textLength="47.5" lengthAdjust="spacingAndGlyphs" >5 Jul 01:15</text>
<text x="1156.2" y="824" font-size="9.8" fill="#000" stroke="#000" stroke-width="0.12" textLength="47.5" lengthAdjust="spacingAndGlyphs" >7 Jul 01:15</text>
<text x="1220.2" y="824" font-size="9.8" fill="#000" stroke="#000" stroke-width="0.12" textLength="57.5" lengthAdjust="spacingAndGlyphs" >11 Jul 01:15</text>
<text x="1284.2" y="824" font-size="9.8" fill="#000" stroke="#000" stroke-width="0.12" textLength="57.5" lengthAdjust="spacingAndGlyphs" >13 Jul 01:15</text>
<text x="20.5" y="39" font-size="9.8" fill="#000" stroke="#000" stroke-width="0.12" textLength="40.5" lengthAdjust="spacingAndGlyphs" >HK50-,H4</text>
<text x="67" y="39" font-size="9.8" fill="#000" stroke="#000" stroke-width="0.12" textLength="141" lengthAdjust="spacingAndGlyphs" >20976.0 21017.0 20739.0 20769.0</text>
<text x="9" y="653" font-size="9.8" fill="#000" stroke="#000" stroke-width="0.12" textLength="129" lengthAdjust="spacingAndGlyphs" >MACD(12,26,9) -163.01 -29.60</text>
<text x="9" y="736" font-size="9.8" fill="#000" stroke="#000" stroke-width="0.12" textLength="68" lengthAdjust="spacingAndGlyphs" >RSI(15) 37.5039</text>
</g>
<g id="toolbar"><defs><pattern id="chk" width="2" height="2" patternUnits="userSpaceOnUse"><rect width="2" height="2" fill="#f0f0f0"/><rect width="1" height="1" fill="#fff"/><rect x="1" y="1" width="1" height="1" fill="#fff"/></pattern><linearGradient id="gold" x1="0" y1="0" x2="1" y2="1"><stop offset="0" stop-color="#fbe36a"/><stop offset=".5" stop-color="#f0c020"/><stop offset="1" stop-color="#c88a10"/></linearGradient><linearGradient id="cloud" x1="0" y1="0" x2="0" y2="1"><stop offset="0" stop-color="#ffffff"/><stop offset="1" stop-color="#b8c6e0"/></linearGradient><linearGradient id="grn" x1="0" y1="0" x2="1" y2="0"><stop offset="0" stop-color="#40e050"/><stop offset=".4" stop-color="#90ff98"/><stop offset="1" stop-color="#20c030"/></linearGradient><radialGradient id="badge" cx=".5" cy=".2" r=".9"><stop offset="0" stop-color="#ee6a48"/><stop offset=".6" stop-color="#e03a1c"/><stop offset="1" stop-color="#c82810"/></radialGradient><radialGradient id="clk" cx=".4" cy=".3" r=".8"><stop offset="0" stop-color="#3aa0ff"/><stop offset="1" stop-color="#0650b0"/></radialGradient><radialGradient id="sig" cx=".5" cy=".5" r=".5"><stop offset="0" stop-color="#fff" stop-opacity="0"/><stop offset="1" stop-color="#4aa04a" stop-opacity=".75"/></radialGradient></defs>
<g shape-rendering="crispEdges"><rect x="213" y="0" width="1" height="22" fill="#a0a0a0"/><rect x="214" y="0" width="1" height="22" fill="#fbfbfb"/><rect x="581" y="0" width="1" height="22" fill="#a0a0a0"/><rect x="582" y="0" width="1" height="22" fill="#fbfbfb"/><rect x="887" y="0" width="1" height="22" fill="#a0a0a0"/><rect x="888" y="0" width="1" height="22" fill="#fbfbfb"/><rect x="251" y="0" width="1" height="21" fill="#a0a0a0"/><rect x="308" y="0" width="1" height="21" fill="#a0a0a0"/><rect x="398" y="0" width="1" height="21" fill="#a0a0a0"/><rect x="403" y="0" width="1" height="21" fill="#a0a0a0"/><rect x="431" y="0" width="1" height="21" fill="#a0a0a0"/><rect x="460" y="0" width="1" height="21" fill="#a0a0a0"/><rect x="591" y="0" width="1" height="21" fill="#a0a0a0"/><rect x="648" y="0" width="1" height="21" fill="#a0a0a0"/><rect x="1037" y="0" width="1" height="21" fill="#a0a0a0"/><rect x="1148" y="0" width="1" height="21" fill="#a0a0a0"/><rect x="217" y="1" width="3" height="1" fill="#a6a6a6"/><rect x="217" y="3" width="3" height="1" fill="#a6a6a6"/><rect x="217" y="5" width="3" height="1" fill="#a6a6a6"/><rect x="217" y="7" width="3" height="1" fill="#a6a6a6"/><rect x="217" y="9" width="3" height="1" fill="#a6a6a6"/><rect x="217" y="11" width="3" height="1" fill="#a6a6a6"/><rect x="217" y="13" width="3" height="1" fill="#a6a6a6"/><rect x="217" y="15" width="3" height="1" fill="#a6a6a6"/><rect x="217" y="17" width="3" height="1" fill="#a6a6a6"/><rect x="217" y="19" width="3" height="1" fill="#a6a6a6"/><rect x="585" y="1" width="3" height="1" fill="#a6a6a6"/><rect x="585" y="3" width="3" height="1" fill="#a6a6a6"/><rect x="585" y="5" width="3" height="1" fill="#a6a6a6"/><rect x="585" y="7" width="3" height="1" fill="#a6a6a6"/><rect x="585" y="9" width="3" height="1" fill="#a6a6a6"/><rect x="585" y="11" width="3" height="1" fill="#a6a6a6"/><rect x="585" y="13" width="3" height="1" fill="#a6a6a6"/><rect x="585" y="15" width="3" height="1" fill="#a6a6a6"/><rect x="585" y="17" width="3" height="1" fill="#a6a6a6"/><rect x="585" y="19" width="3" height="1" fill="#a6a6a6"/><rect x="891" y="1" width="3" height="1" fill="#a6a6a6"/><rect x="891" y="3" width="3" height="1" fill="#a6a6a6"/><rect x="891" y="5" width="3" height="1" fill="#a6a6a6"/><rect x="891" y="7" width="3" height="1" fill="#a6a6a6"/><rect x="891" y="9" width="3" height="1" fill="#a6a6a6"/><rect x="891" y="11" width="3" height="1" fill="#a6a6a6"/><rect x="891" y="13" width="3" height="1" fill="#a6a6a6"/><rect x="891" y="15" width="3" height="1" fill="#a6a6a6"/><rect x="891" y="17" width="3" height="1" fill="#a6a6a6"/><rect x="891" y="19" width="3" height="1" fill="#a6a6a6"/><rect x="252" y="0" width="24" height="21" fill="url(#chk)"/><rect x="276" y="0" width="1" height="22" fill="#fff"/><rect x="252" y="21" width="24" height="1" fill="#fff"/><rect x="404" y="0" width="24" height="21" fill="url(#chk)"/><rect x="428" y="0" width="1" height="22" fill="#fff"/><rect x="404" y="21" width="24" height="1" fill="#fff"/><rect x="432" y="0" width="24" height="21" fill="url(#chk)"/><rect x="456" y="0" width="1" height="22" fill="#fff"/><rect x="432" y="21" width="24" height="1" fill="#fff"/><rect x="592" y="0" width="24" height="21" fill="url(#chk)"/><rect x="616" y="0" width="1" height="22" fill="#fff"/><rect x="592" y="21" width="24" height="1" fill="#fff"/><rect x="1038" y="0" width="24" height="21" fill="url(#chk)"/><rect x="1062" y="0" width="1" height="22" fill="#fff"/><rect x="1038" y="21" width="24" height="1" fill="#fff"/><rect x="0" y="13" width="2" height="3" fill="#2ab02a"/></g>
<text x="5.6" y="14" font-size="12.2" fill="#000" stroke="#000" stroke-width="0.3" textLength="36.5" lengthAdjust="spacingAndGlyphs" style="font-family:'Liberation Sans','Noto Sans CJK SC',sans-serif">新订单</text>
<text x="158.6" y="14.2" font-size="12" fill="#000" stroke="#000" stroke-width="0.3" textLength="46.6" lengthAdjust="spacingAndGlyphs" style="font-family:'Liberation Sans','Noto Sans CJK SC',sans-serif">自动交易</text>
<path d="M59.9,3.9 L69.6,10.7 L70.1,12.4 L62.1,18.9 L53.9,13.2 Q57.6,10 58.7,7.6 Q59.4,5.8 59.9,3.9Z" fill="#a8720e"/><path d="M60.2,5 L68.8,11 L61.7,16.9 L55.6,12.5 Q58.8,9.4 60.2,5Z" fill="url(#gold)"/><path d="M54.8,13.2 L61.9,18 L62.5,16.9 L55.7,12.3Z" fill="#f6dc78"/><path d="M62.6,18 L69.5,12.4 L69.1,11.5 L62.6,16.9Z" fill="#ddd4a4"/>
<path d="M84.2,3.6 L94,3.3 L95.2,4.6 L95.2,12.5 L84.2,12.5Z" fill="#1c9cf8"/><path d="M84.2,3.6 L87.4,6 L87.4,12.5 L84.2,12.5Z" fill="#12a8ff"/><path d="M84.6,3.9 L87.4,6.2 L87.4,12" fill="none" stroke="#d8f0ff" stroke-width=".8"/><path d="M89.5,8.3 L93.5,7.4" stroke="#e8f6ff" stroke-width="1" fill="none"/><path d="M88.5,10.6 L94,10.6" stroke="#8ad0ff" stroke-width=".8"/><path d="M84.6,18.4 Q81.8,18.2 82.1,15.9 Q82.6,14 85,14.2 Q85.6,11.8 88.4,11.8 Q90.8,11.3 92.3,13.3 Q94.4,12.2 96,13.6 Q98.2,14.1 97.9,16.4 Q97.8,18.3 95.6,18.4Z" fill="url(#cloud)" stroke="#3a5c9c" stroke-width=".9"/>
<defs><linearGradient id="sg2" x1="0" y1="0" x2=".3" y2="1"><stop offset="0" stop-color="#dfeadc" stop-opacity=".7"/><stop offset="1" stop-color="#4aa84a" stop-opacity=".85"/></linearGradient></defs><circle cx="117.9" cy="10.8" r="7.6" fill="#f6f8fb"/><g fill="none" stroke="#3a6cd8" stroke-linecap="round"><path d="M114.2,4.4 A7.4,7.4 0 0 0 114.2,17.2" stroke-width="1" opacity=".75"/><path d="M121.6,4.4 A7.4,7.4 0 0 1 125.3,10.8" stroke-width="1" opacity=".45"/><path d="M115.3,6.3 A5.2,5.2 0 0 0 115.3,15.3" stroke-width="1" opacity=".8"/><path d="M120.5,6.3 A5.2,5.2 0 0 1 123.1,10.8" stroke-width="1" opacity=".5"/><path d="M116.3,8 A3.2,3.2 0 0 0 116.3,13.6" stroke-width="1" opacity=".8"/></g><path d="M118.4,10.8 L119.5,3.4 A7.6,7.6 0 0 1 118.4,18.4Z" fill="url(#sg2)"/><g fill="none" stroke="#2a7a6a" opacity=".5"><path d="M123.1,10.8 A5.2,5.2 0 0 1 119.5,15.8" stroke-width="1"/><path d="M125.3,10.8 A7.4,7.4 0 0 1 120,17.9" stroke-width="1"/><path d="M121.1,10.8 A3.2,3.2 0 0 1 119.4,13.6" stroke-width="1"/></g><circle cx="117.7" cy="10.4" r="1.9" fill="#1c50cc"/><path d="M118.5,11 L118.5,18.7" stroke="#18a018" stroke-width="1.4"/>
<path d="M137.6,10.6 L152.8,10 L145,18.6 Q143.8,18.8 142.8,17.6Z" fill="#f8dc50" stroke="#c89a10" stroke-width=".8"/><path d="M139.5,11.4 L150,11 L144.2,16.6Z" fill="#fdf0a0"/><ellipse cx="145.1" cy="8" rx="7.9" ry="2.9" fill="#5ab4e0" stroke="#2a84b4" stroke-width=".8"/><path d="M141.2,7.6 Q141.6,3.2 145.2,3.2 Q148.8,3.2 149.2,7.2 Q145,9 141.2,7.6Z" fill="#7ac8ee" stroke="#2a84b4" stroke-width=".7"/><circle cx="149.6" cy="14.8" r="4" fill="#e8300c" stroke="#b81c04" stroke-width=".6"/><rect x="148" y="13.2" width="3.2" height="3.2" fill="#fff"/>
<g stroke="#565656" stroke-width="1.05" fill="none"><path d="M231.5,5.4 L231.5,18.8 M229,16.5 L242,16.5"/><path d="M230,7.2 L231.5,5.3 L233,7.2 M240.6,15 L242.4,16.5 L240.6,18"/></g><path d="M237.5,6.2 L237.5,14.8 M237.5,7.6 L240.2,7.6 M235,13.6 L237.5,13.6" stroke="#0a8a0a" stroke-width="1.2" fill="none"/>
<g stroke="#565656" stroke-width="1.05" fill="none"><path d="M259.5,5.4 L259.5,18.8 M257,16.5 L270,16.5"/><path d="M258,7.2 L259.5,5.3 L261,7.2 M268.6,15 L270.4,16.5 L268.6,18"/></g><path d="M265.5,3.3 L265.5,14.8" stroke="#0a8a0a" stroke-width="1.2"/><rect x="263.5" y="5.5" width="4" height="7" fill="url(#grn)" stroke="#0a8a0a" stroke-width="1"/>
<g stroke="#565656" stroke-width="1.05" fill="none"><path d="M287.5,5.4 L287.5,18.8 M285,16.5 L298,16.5"/><path d="M286,7.2 L287.5,5.3 L289,7.2 M296.6,15 L298.4,16.5 L296.6,18"/></g><path d="M286.2,13.8 Q288,12.6 290,9.8 Q292.2,7.6 293.6,9 Q296,12 298,12.2" stroke="#2a9a2a" stroke-width="1.2" fill="none"/>
<path d="M326.6,13.2 L331.6,17.6" stroke="#9a6c08" stroke-width="3.6" stroke-linecap="butt"/><path d="M326.9,13.4 L331.4,17.4" stroke="#f0cc28" stroke-width="2"/><circle cx="323" cy="9" r="5.5" fill="#d4eefc" stroke="#2a72c8" stroke-width="1.2"/><path d="M319.7,9 L326.3,9" stroke="#3a88b0" stroke-width="1.9"/><path d="M323,5.7 L323,12.3" stroke="#3a88b0" stroke-width="1.9"/>
<path d="M354.6,13.2 L359.6,17.6" stroke="#9a6c08" stroke-width="3.6" stroke-linecap="butt"/><path d="M354.9,13.4 L359.4,17.4" stroke="#f0cc28" stroke-width="2"/><circle cx="351" cy="9" r="5.5" fill="#d4eefc" stroke="#2a72c8" stroke-width="1.2"/><path d="M347.7,9 L354.3,9" stroke="#3a88b0" stroke-width="1.9"/>
<g shape-rendering="crispEdges"><rect x="373" y="3" width="8" height="8" fill="#3aa414"/><rect x="374" y="6" width="6" height="4" fill="#fff"/><rect x="374" y="4" width="1" height="1" fill="#e8f4ff"/><rect x="375" y="7" width="4" height="1" fill="#9ad08a"/><rect x="375" y="9" width="4" height="1" fill="#3aa414"/><rect x="381" y="3" width="8" height="8" fill="#1c54d4"/><rect x="382" y="6" width="6" height="4" fill="#fff"/><rect x="382" y="4" width="1" height="1" fill="#e8f4ff"/><rect x="383" y="7" width="4" height="1" fill="#8aa8ee"/><rect x="383" y="9" width="4" height="1" fill="#1c54d4"/><rect x="373" y="11" width="8" height="8" fill="#1c54d4"/><rect x="374" y="14" width="6" height="4" fill="#fff"/><rect x="374" y="12" width="1" height="1" fill="#e8f4ff"/><rect x="375" y="15" width="4" height="1" fill="#8aa8ee"/><rect x="375" y="17" width="4" height="1" fill="#1c54d4"/><rect x="381" y="11" width="8" height="8" fill="#3aa414"/><rect x="382" y="14" width="6" height="4" fill="#fff"/><rect x="382" y="12" width="1" height="1" fill="#e8f4ff"/><rect x="383" y="15" width="4" height="1" fill="#9ad08a"/><rect x="383" y="17" width="4" height="1" fill="#3aa414"/></g>
<g stroke="#565656" stroke-width="1.05" fill="none"><path d="M411.5,5.4 L411.5,18.8 M409,16.5 L422,16.5"/><path d="M410,7.2 L411.5,5.3 L413,7.2 M420.6,15 L422.4,16.5 L420.6,18"/></g><path d="M416.2,7 L420,10.5 L416.2,14Z" fill="#70f080" stroke="#0a8a0a" stroke-width="1" stroke-linejoin="round"/>
<g stroke="#565656" stroke-width="1.05" fill="none"><path d="M439.5,5.4 L439.5,18.8 M437,16.5 L450,16.5"/><path d="M438,7.2 L439.5,5.3 L441,7.2 M448.6,15 L450.4,16.5 L448.6,18"/></g><path d="M445.5,5 L445.5,14.8" stroke="#1a6ca4" stroke-width="1.3"/><path d="M446.4,10.5 L451,10.5 M446.2,10.5 L448.8,8.2 M446.2,10.5 L448.8,12.8" stroke="#d84a00" stroke-width="1.2" fill="none"/><path d="M446.3,10.5 L449,8.6 L449,12.4Z" fill="#f06a10"/>
<path d="M470.6,4.2 Q470.6,3.6 471.4,3.6 L478.6,3.6 L481.4,6.4 L481.4,16 Q481.4,16.7 480.6,16.7 L471.4,16.7 Q470.6,16.7 470.6,16Z" fill="#fff" stroke="#8a8a8a" stroke-width=".9"/><path d="M478.6,3.6 L478.6,6.4 L481.4,6.4" fill="#e8e8e8" stroke="#8a8a8a" stroke-width=".7"/><path d="M475.2,6.2 Q473.4,6 473.4,8 L473.4,14.4 M472.4,9.6 L475,9.6" stroke="#4a4030" stroke-width=".9" fill="none"/><path d="M478,9.4 L482,9.4 L482,13.2 L486.4,13.2 L486.4,17 L482,17 L482,20.8 L478,20.8 L478,17 L474,17 L474,13.2 L478,13.2Z" fill="#18d828" stroke="#0a8a0a" stroke-width=".9"/><path d="M479.4,10.6 L479.4,19.6 M475.2,14.6 L485.2,14.6" stroke="#9affa0" stroke-width="1" opacity=".8"/>
<path d="M491.6,10 L497.4,10 L494.5,13.1Z" fill="#000"/>
<path d="M530.6,10 L536.4,10 L533.5,13.1Z" fill="#000"/>
<path d="M569.6,10 L575.4,10 L572.5,13.1Z" fill="#000"/>
<path d="M875.7,10 L881.5,10 L878.6,13.1Z" fill="#000"/>
<circle cx="515.9" cy="10.8" r="6.75" fill="#fff" stroke="url(#clk)" stroke-width="2.15"/><circle cx="515.9" cy="10.8" r="7.7" fill="none" stroke="#0a58b8" stroke-width=".6"/><g fill="#555"><circle cx="515.9" cy="6.3" r=".45"/><circle cx="520.4" cy="10.8" r=".45"/><circle cx="511.4" cy="10.8" r=".45"/><circle cx="518.2" cy="6.9" r=".4"/><circle cx="513.6" cy="6.9" r=".4"/><circle cx="519.8" cy="13.1" r=".4"/><circle cx="512" cy="13.1" r=".4"/><circle cx="518.2" cy="14.7" r=".4"/><circle cx="513.6" cy="14.7" r=".4"/></g><path d="M515.3,7.4 L515.9,11 L518.4,10.5" stroke="#111" stroke-width="1.05" fill="none"/><path d="M515.3,13.6 L516.7,13.6" stroke="#3a90f0" stroke-width=".8"/>
<g shape-rendering="crispEdges"><rect x="547" y="4" width="16" height="14" fill="#2e74bc"/><rect x="548" y="7" width="14" height="5" fill="#fff"/><rect x="548" y="13" width="14" height="4" fill="#fff"/><rect x="548" y="5" width="6" height="1" fill="#a8d4f8"/></g>
<path d="M549,10.6 L551.5,10.6 L553,9.4 L554.5,8.4 L556,9.5 L558.5,9.5 L560,8.5 L561,8.5" stroke="#a82408" stroke-width="1" fill="none"/><path d="M550,15.6 L551.5,15.6 L553,14.4 L555,15.6 L556.5,14.6 L558,13.4 L559.5,14.4 L560.6,15.6" stroke="#12921e" stroke-width="1" fill="none"/>
<path d="M599,3.8 L599,15 L601.5,12.5 L603.9,17.9 L605.7,17.1 L603.4,11.9 L607,11.5Z" fill="#4a4a4a"/>
<path d="M631.5,4.2 L631.5,9.6 M631.5,13.4 L631.5,18.8 M624.2,11.5 L629.6,11.5 M633.4,11.5 L638.9,11.5" stroke="#3c3c3c" stroke-width="1.2"/><rect x="631" y="11" width="1" height="1" fill="#6a6040"/>
<g shape-rendering="crispEdges"><rect x="665" y="5" width="1" height="13" fill="#4a4a4a"/><rect x="688" y="11" width="12" height="1" fill="#4a4a4a"/></g>
<path d="M715.8,17.8 L728,6" stroke="#555" stroke-width="1"/>
<g stroke="#4a4a4a" fill="none"><path d="M741.8,12.6 L749.6,5.1 M747.2,17.8 L756,9.6" stroke-width="1"/><path d="M744.6,10.6 L744,17.6 M747.6,8.8 L747,14.6 M750.8,7.2 L750.2,13.2 M753.6,3.4 L753.8,9.6" stroke-width="1.3"/><path d="M743.2,13.2 L745.6,14.2 M746.2,11.2 L748.6,12.2 M749.4,9.2 L752,10.2 M752.4,5.6 L755,7.6" stroke-width=".9"/></g>
<text x="752.8" y="19.9" font-size="6.6" font-weight="bold" fill="#333">E</text>
<g shape-rendering="crispEdges"><rect x="771" y="4" width="1" height="1" fill="#3c3c3c"/><rect x="773" y="4" width="1" height="1" fill="#3c3c3c"/><rect x="775" y="4" width="1" height="1" fill="#3c3c3c"/><rect x="777" y="4" width="1" height="1" fill="#3c3c3c"/><rect x="779" y="4" width="1" height="1" fill="#3c3c3c"/><rect x="781" y="4" width="1" height="1" fill="#3c3c3c"/><rect x="783" y="4" width="1" height="1" fill="#3c3c3c"/><rect x="771" y="7" width="1" height="1" fill="#3c3c3c"/><rect x="773" y="7" width="1" height="1" fill="#3c3c3c"/><rect x="775" y="7" width="1" height="1" fill="#3c3c3c"/><rect x="777" y="7" width="1" height="1" fill="#3c3c3c"/><rect x="779" y="7" width="1" height="1" fill="#3c3c3c"/><rect x="781" y="7" width="1" height="1" fill="#3c3c3c"/><rect x="783" y="7" width="1" height="1" fill="#3c3c3c"/><rect x="771" y="11" width="1" height="1" fill="#3c3c3c"/><rect x="773" y="11" width="1" height="1" fill="#3c3c3c"/><rect x="775" y="11" width="1" height="1" fill="#3c3c3c"/><rect x="777" y="11" width="1" height="1" fill="#3c3c3c"/><rect x="779" y="11" width="1" height="1" fill="#3c3c3c"/><rect x="781" y="11" width="1" height="1" fill="#3c3c3c"/><rect x="783" y="11" width="1" height="1" fill="#3c3c3c"/><rect x="771" y="15" width="1" height="1" fill="#3c3c3c"/><rect x="773" y="15" width="1" height="1" fill="#3c3c3c"/><rect x="775" y="15" width="1" height="1" fill="#3c3c3c"/><rect x="777" y="15" width="1" height="1" fill="#3c3c3c"/><rect x="779" y="15" width="1" height="1" fill="#3c3c3c"/></g>
<text x="780.8" y="19.9" font-size="6.6" font-weight="bold" fill="#333">F</text>
<text x="801.4" y="15.9" font-size="12.4" fill="#4a4a4a" textLength="8.6" lengthAdjust="spacingAndGlyphs">A</text>
<g shape-rendering="crispEdges"><rect x="828" y="5" width="1" height="1" fill="#3c3c3c"/><rect x="828" y="17" width="1" height="1" fill="#3c3c3c"/><rect x="830" y="5" width="1" height="1" fill="#3c3c3c"/><rect x="830" y="17" width="1" height="1" fill="#3c3c3c"/><rect x="832" y="5" width="1" height="1" fill="#3c3c3c"/><rect x="832" y="17" width="1" height="1" fill="#3c3c3c"/><rect x="834" y="5" width="1" height="1" fill="#3c3c3c"/><rect x="834" y="17" width="1" height="1" fill="#3c3c3c"/><rect x="836" y="5" width="1" height="1" fill="#3c3c3c"/><rect x="836" y="17" width="1" height="1" fill="#3c3c3c"/><rect x="838" y="5" width="1" height="1" fill="#3c3c3c"/><rect x="838" y="17" width="1" height="1" fill="#3c3c3c"/><rect x="840" y="5" width="1" height="1" fill="#3c3c3c"/><rect x="840" y="17" width="1" height="1" fill="#3c3c3c"/><rect x="828" y="7" width="1" height="1" fill="#3c3c3c"/><rect x="840" y="7" width="1" height="1" fill="#3c3c3c"/><rect x="828" y="9" width="1" height="1" fill="#3c3c3c"/><rect x="840" y="9" width="1" height="1" fill="#3c3c3c"/><rect x="828" y="11" width="1" height="1" fill="#3c3c3c"/><rect x="840" y="11" width="1" height="1" fill="#3c3c3c"/><rect x="828" y="13" width="1" height="1" fill="#3c3c3c"/><rect x="840" y="13" width="1" height="1" fill="#3c3c3c"/><rect x="828" y="15" width="1" height="1" fill="#3c3c3c"/><rect x="840" y="15" width="1" height="1" fill="#3c3c3c"/><rect x="827" y="4" width="2" height="1" fill="#3c3c3c"/><rect x="830" y="8" width="8" height="1" fill="#4a4a4a"/><rect x="833" y="8" width="2" height="8" fill="#4a4a4a"/></g>
<path d="M858.5,4.8 L862,8.9 L855,8.9Z M862,14.2 L869,14.2 L865.5,18Z" fill="#4a4a4a"/><path d="M857.2,12.6 L859.4,14.5 L864,9" stroke="#4a4a4a" stroke-width="1.2" fill="none"/><rect x="857" y="9.4" width="3" height=".8" fill="#4a4a4a"/><rect x="864" y="13" width="3" height=".8" fill="#4a4a4a"/>
<text x="902.7" y="15" font-size="9.8" fill="#303030" stroke="#303030" stroke-width=".15" textLength="12.3" lengthAdjust="spacingAndGlyphs">M1</text>
<text x="930.9" y="15" font-size="9.8" fill="#303030" stroke="#303030" stroke-width=".15" textLength="12.2" lengthAdjust="spacingAndGlyphs">M5</text>
<text x="956.7" y="15" font-size="9.8" fill="#303030" stroke="#303030" stroke-width=".15" textLength="17.4" lengthAdjust="spacingAndGlyphs">M15</text>
<text x="985" y="15" font-size="9.8" fill="#303030" stroke="#303030" stroke-width=".15" textLength="17.4" lengthAdjust="spacingAndGlyphs">M30</text>
<text x="1015.6" y="15" font-size="9.8" fill="#303030" stroke="#303030" stroke-width=".15" textLength="11.4" lengthAdjust="spacingAndGlyphs">H1</text>
<text x="1042.6" y="15" font-size="9.8" fill="#303030" stroke="#303030" stroke-width=".15" textLength="12.4" lengthAdjust="spacingAndGlyphs">H4</text>
<text x="1071.7" y="15" font-size="9.8" fill="#303030" stroke="#303030" stroke-width=".15" textLength="11.6" lengthAdjust="spacingAndGlyphs">D1</text>
<text x="1099" y="15" font-size="9.8" fill="#303030" stroke="#303030" stroke-width=".15" textLength="14.5" lengthAdjust="spacingAndGlyphs">W1</text>
<text x="1125.7" y="15" font-size="9.8" fill="#303030" stroke="#303030" stroke-width=".15" textLength="14.8" lengthAdjust="spacingAndGlyphs">MN</text>
<path d="M1615.8,11.4 L1611,15.8" stroke="#2a5bd0" stroke-width="2.4" stroke-linecap="round"/><path d="M1615.2,11 L1611.2,14.8" stroke="#a8c0f4" stroke-width=".7" stroke-dasharray="1 1"/><circle cx="1618.6" cy="8.6" r="4" fill="#f0f0f0" stroke="#2a5bd0" stroke-width="1.3"/>
<path d="M1638.4,19.3 L1637.6,16.4 Q1634.9,15.2 1635.1,12.6 Q1635.6,8.6 1640.4,8.8 Q1645.2,9 1645,13.2 Q1644.6,17 1640.6,17.2Z" fill="#e4e6f0" stroke="#a0a0a0" stroke-width=".8"/><ellipse cx="1639.4" cy="11.8" rx="3.6" ry="2" fill="#fbfbfd"/><path d="M1636,19.6 L1646,19.2" stroke="#c8c8c8" stroke-width=".8"/>
<circle cx="1649.6" cy="8.2" r="8.2" fill="url(#badge)"/><text x="1646.1" y="12.9" font-family="Liberation Serif, serif" font-size="12" fill="#fff" stroke="#fff" stroke-width=".2">1</text></g>
</svg></body></html>
